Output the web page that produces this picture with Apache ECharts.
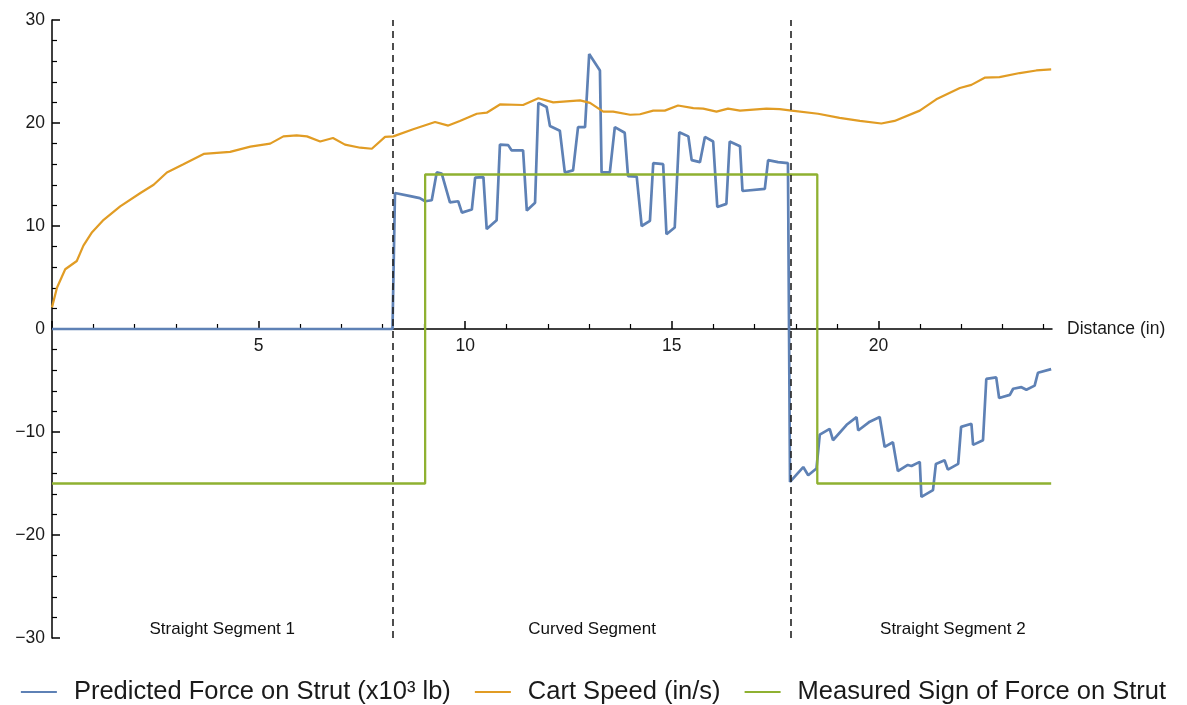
<!DOCTYPE html>
<html>
<head>
<meta charset="utf-8">
<script src="https://cdn.jsdelivr.net/npm/echarts@6/dist/echarts.min.js"></script>
<style>
html,body{margin:0;padding:0;background:#fff;}
#chart{width:1187px;height:705px;}
</style>
</head>
<body>
<div id="chart"></div>
<script>
// ---- data ----
const forceX = [0, 8.24, 8.3, 8.67, 8.9, 9.03, 9.19, 9.31, 9.43, 9.63, 9.83, 9.92, 10.16, 10.24, 10.44, 10.52, 10.76, 10.84, 11.04, 11.12, 11.4, 11.49, 11.69, 11.77, 11.97, 12.05, 12.29, 12.41, 12.61, 12.73, 12.9, 13.0, 13.26, 13.3, 13.5, 13.62, 13.86, 13.94, 14.15, 14.27, 14.47, 14.55, 14.79, 14.87, 15.07, 15.18, 15.4, 15.48, 15.68, 15.8, 16.0, 16.1, 16.32, 16.4, 16.65, 16.71, 17.25, 17.33, 17.57, 17.81, 17.86, 18.18, 18.3, 18.5, 18.58, 18.82, 18.9, 19.23, 19.47, 19.51, 19.79, 20.03, 20.15, 20.35, 20.47, 20.71, 20.8, 21.0, 21.04, 21.32, 21.39, 21.6, 21.68, 21.93, 22.0, 22.25, 22.29, 22.53, 22.61, 22.85, 22.92, 23.18, 23.26, 23.46, 23.58, 23.78, 23.86, 24.18];
const forceY = [0, 0, 13.2, 12.9, 12.7, 12.4, 12.5, 15.2, 15.1, 12.3, 12.4, 11.3, 11.6, 14.7, 14.75, 9.7, 10.55, 17.9, 17.85, 17.35, 17.35, 11.5, 12.25, 21.95, 21.55, 19.7, 19.25, 15.2, 15.4, 19.6, 19.6, 26.7, 25.1, 15.2, 15.2, 19.6, 19.05, 14.85, 14.8, 10.0, 10.5, 16.1, 16.0, 9.2, 9.85, 19.1, 18.7, 16.4, 16.2, 18.65, 18.2, 11.85, 12.15, 18.2, 17.75, 13.4, 13.6, 16.4, 16.2, 16.1, -14.85, -13.4, -14.2, -13.55, -10.26, -9.7, -10.8, -9.3, -8.55, -9.85, -9.0, -8.55, -11.45, -11.0, -13.8, -13.2, -13.3, -12.9, -16.3, -15.65, -13.1, -12.75, -13.65, -13.1, -9.5, -9.2, -11.25, -10.8, -4.85, -4.7, -6.7, -6.4, -5.8, -5.65, -5.9, -5.5, -4.25, -3.9];

const speedX = [0, 0.12, 0.32, 0.6, 0.76, 0.97, 1.25, 1.65, 2.14, 2.46, 2.78, 3.18, 3.67, 4.31, 4.8, 5.28, 5.6, 5.92, 6.17, 6.49, 6.8, 7.09, 7.46, 7.74, 8.06, 8.26, 8.74, 9.27, 9.59, 9.87, 10.28, 10.52, 10.84, 11.4, 11.77, 12.13, 12.45, 12.78, 13.02, 13.34, 13.58, 13.99, 14.23, 14.55, 14.83, 15.15, 15.52, 15.76, 16.08, 16.36, 16.65, 17.29, 17.61, 17.9, 18.54, 19.06, 19.55, 20.07, 20.39, 21.0, 21.4, 21.97, 22.25, 22.57, 22.93, 23.42, 23.82, 24.18];
const speedY = [2.1, 4.0, 5.8, 6.6, 8.1, 9.4, 10.6, 11.9, 13.2, 14.0, 15.2, 16.0, 17.0, 17.2, 17.7, 18.0, 18.7, 18.8, 18.7, 18.2, 18.55, 17.9, 17.6, 17.5, 18.65, 18.7, 19.4, 20.1, 19.75, 20.2, 20.9, 21.0, 21.8, 21.75, 22.4, 22.0, 22.1, 22.2, 21.95, 21.1, 21.1, 20.8, 20.85, 21.2, 21.2, 21.7, 21.45, 21.4, 21.1, 21.4, 21.2, 21.4, 21.35, 21.2, 20.9, 20.5, 20.2, 19.95, 20.2, 21.2, 22.3, 23.4, 23.7, 24.4, 24.45, 24.85, 25.1, 25.2];

const signX = [0, 9.03, 9.03, 18.52, 18.52, 24.18];
const signY = [-15, -15, 15, 15, -15, -15];

const dividers = [8.25, 17.87];
const segmentNames = ['Straight Segment 1', 'Curved Segment', 'Straight Segment 2'];
const segmentX = [4.12, 13.07, 21.8];
const segmentY = [-29.2, -29.2, -29.2];

const seriesNames = ['Predicted Force on Strut (x10\u00B3 lb)', 'Cart Speed (in/s)', 'Measured Sign of Force on Strut'];
const xMajorTicks = [0, 5, 10, 15, 20];
const xLabels = [5, 10, 15, 20];
const xLabelY = -1.65;
const xMinorTicks = [1, 2, 3, 4, 6, 7, 8, 9, 11, 12, 13, 14, 16, 17, 18, 19, 21, 22, 23, 24];

const zip = (xs, ys) => xs.map((x, i) => [x, ys[i]]);
const FONT = '"Liberation Sans", Arial, sans-serif';
const TXT = '#1a1a1a';

const chart = echarts.init(document.getElementById('chart'), null, {renderer: 'canvas'});
chart.setOption({
  animation: false,
  backgroundColor: '#fff',
  textStyle: {fontFamily: FONT},
  grid: {left: 52, right: 135, top: 20, bottom: 67, containLabel: false},
  legend: {
    data: seriesNames,
    left: 'center',
    top: 674,
    icon: 'rect',
    itemWidth: 36,
    itemHeight: 2,
    itemGap: 24,
    textStyle: {fontFamily: FONT, fontSize: 25.5, color: TXT, padding: [0, 0, 0, 12]}
  },
  xAxis: [{
    type: 'value', min: 0, max: 24.2,
    name: 'Distance (in)', nameLocation: 'end', nameGap: 15,
    nameTextStyle: {fontFamily: FONT, fontSize: 17.5, color: TXT, verticalAlign: 'middle'},
    axisLine: {onZero: true, onZeroAxisIndex: 0, lineStyle: {color: '#000', width: 1.5}},
    axisTick: {show: true, inside: true, length: 5, customValues: xMinorTicks, lineStyle: {color: '#000', width: 1.2}},
    axisLabel: {show: false},
    splitLine: {show: false}
  }, {
    type: 'value', min: 0, max: 24.2, position: 'top',
    axisLine: {show: false, onZero: true, onZeroAxisIndex: 0},
    axisTick: {show: true, inside: false, length: 8, customValues: xMajorTicks, lineStyle: {color: '#000', width: 1.5}},
    axisLabel: {show: false},
    splitLine: {show: false}
  }],
  yAxis: {
    type: 'value', min: -30, max: 30, interval: 10,
    axisLine: {show: true, onZero: false, lineStyle: {color: '#000', width: 1.5}},
    axisTick: {show: true, inside: true, length: 8, lineStyle: {color: '#000', width: 1.5}},
    minorTick: {show: true, splitNumber: 5, length: 5, lineStyle: {color: '#000', width: 1.2}},
    axisLabel: {margin: 7, fontFamily: FONT, fontSize: 17.5, color: TXT,
      formatter: v => v < 0 ? '\u2212' + Math.abs(v) : String(v)},
    splitLine: {show: false}
  },
  series: [{
    name: seriesNames[0], type: 'line', xAxisIndex: 0,
    data: zip(forceX, forceY), showSymbol: false, symbol: 'none',
    lineStyle: {color: '#5E81B5', width: 2.7}, itemStyle: {color: '#5E81B5'}
  }, {
    name: seriesNames[1], type: 'line', xAxisIndex: 0,
    data: zip(speedX, speedY), showSymbol: false, symbol: 'none',
    lineStyle: {color: '#E19C24', width: 2.2}, itemStyle: {color: '#E19C24'}
  }, {
    name: seriesNames[2], type: 'line', xAxisIndex: 0,
    data: zip(signX, signY), showSymbol: false, symbol: 'none',
    lineStyle: {color: '#8FB131', width: 2.3}, itemStyle: {color: '#8FB131'},
    markLine: {
      silent: true, symbol: ['none', 'none'], label: {show: false},
      lineStyle: {color: '#222', type: [7, 5], width: 1.6},
      data: dividers.map(d => ({xAxis: d}))
    }
  }, {
    name: 'segments', type: 'scatter', xAxisIndex: 0,
    data: segmentX.map((x, i) => ({value: [x, segmentY[i]], name: segmentNames[i]})),
    symbolSize: 0, silent: true, itemStyle: {opacity: 1},
    label: {show: true, position: 'inside', formatter: p => p.name,
      fontFamily: FONT, fontSize: 17, color: '#111', opacity: 1}
  }, {
    name: 'xticklabels', type: 'scatter', xAxisIndex: 0,
    data: xLabels.map(v => ({value: [v, xLabelY], name: String(v)})),
    symbolSize: 0, silent: true, itemStyle: {opacity: 1},
    label: {show: true, position: 'inside', formatter: p => p.name,
      fontFamily: FONT, fontSize: 17.5, color: TXT, opacity: 1}
  }]
});
</script>
</body>
</html>
